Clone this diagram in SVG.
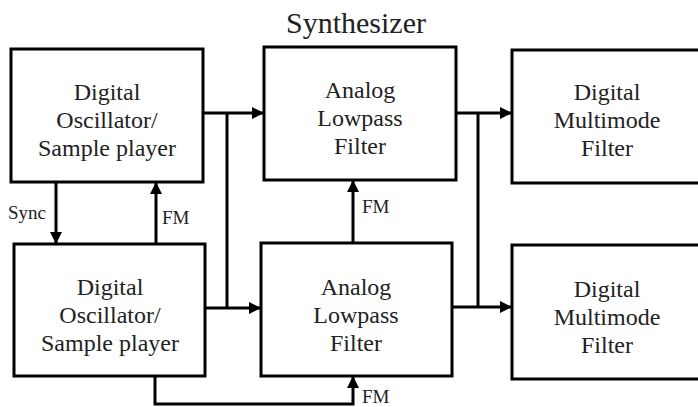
<svg xmlns="http://www.w3.org/2000/svg" width="698" height="407" viewBox="0 0 698 407">
<defs>
<marker id="ah" viewBox="0 0 12 12" refX="12" refY="6" markerWidth="12" markerHeight="12" markerUnits="userSpaceOnUse" orient="auto">
<path d="M0,0 L12,6 L0,12 Z" fill="#000"/>
</marker>
</defs>
<style>
text{font-family:"Liberation Serif","DejaVu Serif","Noto Serif",Times,serif;fill:#222}
.box{fill:#fff;stroke:#000;stroke-width:3}
.t{font-size:24px;text-anchor:middle}
.lbl{font-size:19px}
.c{fill:none;stroke:#000;stroke-width:3}
.a{marker-end:url(#ah)}
</style>
<rect width="698" height="407" fill="#fff"/>
<text x="356" y="33" font-size="30" text-anchor="middle">Synthesizer</text>
<g id="osc1">
<rect class="box" x="11" y="49" width="192" height="133"/>
<text class="t" x="107" y="100">Digital</text>
<text class="t" x="107" y="128">Oscillator/</text>
<text class="t" x="107" y="156">Sample player</text>
</g>
<g id="lpf1">
<rect class="box" x="264" y="47" width="192" height="133"/>
<text class="t" x="360" y="98">Analog</text>
<text class="t" x="360" y="126">Lowpass</text>
<text class="t" x="360" y="154">Filter</text>
</g>
<g id="mmf1">
<rect class="box" x="512" y="50" width="200" height="133"/>
<text class="t" x="607" y="100">Digital</text>
<text class="t" x="607" y="128">Multimode</text>
<text class="t" x="607" y="156">Filter</text>
</g>
<g id="osc2">
<rect class="box" x="14" y="244" width="191" height="132"/>
<text class="t" x="110" y="295">Digital</text>
<text class="t" x="110" y="323">Oscillator/</text>
<text class="t" x="110" y="351">Sample player</text>
</g>
<g id="lpf2">
<rect class="box" x="261" y="243" width="191" height="133"/>
<text class="t" x="356" y="295">Analog</text>
<text class="t" x="356" y="323">Lowpass</text>
<text class="t" x="356" y="351">Filter</text>
</g>
<g id="mmf2">
<rect class="box" x="512" y="245" width="200" height="134"/>
<text class="t" x="607" y="297">Digital</text>
<text class="t" x="607" y="325">Multimode</text>
<text class="t" x="607" y="353">Filter</text>
</g>
<g id="connectors">
<path class="c a" d="M203,113 H264"/>
<path class="c" d="M227,113 V308"/>
<path class="c a" d="M205,308 H261"/>
<path class="c a" d="M456,113 H512"/>
<path class="c" d="M478,113 V307"/>
<path class="c a" d="M452,307 H512"/>
<path class="c a" d="M56,182 V244"/>
<path class="c a" d="M156,244 V182"/>
<path class="c a" d="M353,243 V180"/>
<path class="c a" d="M155,376 V404 H353 V376"/>
<text class="lbl" x="8" y="219">Sync</text>
<text class="lbl" x="162" y="224">FM</text>
<text class="lbl" x="362" y="213">FM</text>
<text class="lbl" x="362" y="403">FM</text>
</g>
</svg>
